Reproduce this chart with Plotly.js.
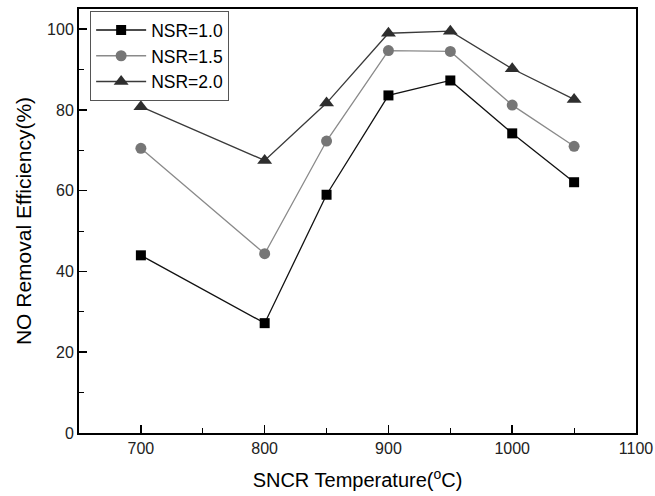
<!DOCTYPE html>
<html>
<head>
<meta charset="utf-8">
<script src="https://cdn.plot.ly/plotly-3.0.1.min.js"></script>
<style>html,body{margin:0;padding:0;background:#fff;}#chart{width:655px;height:496px;}</style>
</head>
<body>
<div id="chart"></div>
<script>
const temperatures = [700, 800, 850, 900, 950, 1000, 1050];
const nsr10 = [44.0, 27.2, 59.0, 83.6, 87.3, 74.2, 62.1];
const nsr15 = [70.5, 44.4, 72.3, 94.7, 94.5, 81.2, 71.0];
const nsr20 = [80.8, 67.5, 81.7, 99.0, 99.5, 90.2, 82.6];
const seriesNames = ["NSR=1.0", "NSR=1.5", "NSR=2.0"];

const traces = [
  {x: temperatures, y: nsr10, name: seriesNames[0], mode: "lines+markers",
   line: {color: "#111111", width: 1.3},
   marker: {symbol: "square", size: 10, color: "#000000"}},
  {x: temperatures, y: nsr15, name: seriesNames[1], mode: "lines+markers",
   line: {color: "#8a8a8a", width: 1.3},
   marker: {symbol: "circle", size: 11, color: "#767676"}},
  {x: temperatures, y: nsr20, name: seriesNames[2], mode: "lines+markers",
   line: {color: "#3a3a3a", width: 1.3},
   marker: {symbol: "triangle-up", size: 13, color: "#2e2e2e"}}
];

const layout = {
  width: 655, height: 496,
  margin: {l: 79, r: 19, t: 9, b: 63},
  paper_bgcolor: "#ffffff", plot_bgcolor: "#ffffff",
  font: {family: "Liberation Sans, Arial, sans-serif", color: "#000000", size: 16},
  showlegend: true,
  legend: {x: 0.02, y: 0.995, xanchor: "left", yanchor: "top",
           bgcolor: "#ffffff", bordercolor: "#555555", borderwidth: 1,
           itemwidth: 50,
           font: {size: 17.5, color: "#000000"}, tracegroupgap: 0},
  xaxis: {
    range: [650, 1100], dtick: 100, tick0: 700,
    showgrid: false, zeroline: false,
    showline: true, linecolor: "#000000", linewidth: 2, mirror: true,
    ticks: "inside", ticklen: 8, tickwidth: 1.5, tickcolor: "#000000",
    minor: {ticks: "inside", ticklen: 5, dtick: 50, tick0: 650, tickwidth: 1.2, tickcolor: "#000000", showgrid: false},
    tickfont: {size: 16, color: "#222222"},
    title: {text: "SNCR Temperature(<sup>o</sup>C)", font: {size: 20, color: "#000000"}, standoff: 17}
  },
  yaxis: {
    range: [0, 105], dtick: 20, tick0: 0,
    showgrid: false, zeroline: false,
    showline: true, linecolor: "#000000", linewidth: 2, mirror: true,
    ticks: "inside", ticklen: 8, tickwidth: 1.5, tickcolor: "#000000",
    minor: {ticks: "inside", ticklen: 5, dtick: 10, tick0: 0, tickwidth: 1.2, tickcolor: "#000000", showgrid: false},
    tickfont: {size: 16, color: "#222222"},
    title: {text: "NO Removal Efficiency(%)", font: {size: 21, color: "#000000"}, standoff: 10}
  }
};

Plotly.newPlot("chart", traces, layout, {displayModeBar: false, staticPlot: true});
</script>
</body>
</html>
